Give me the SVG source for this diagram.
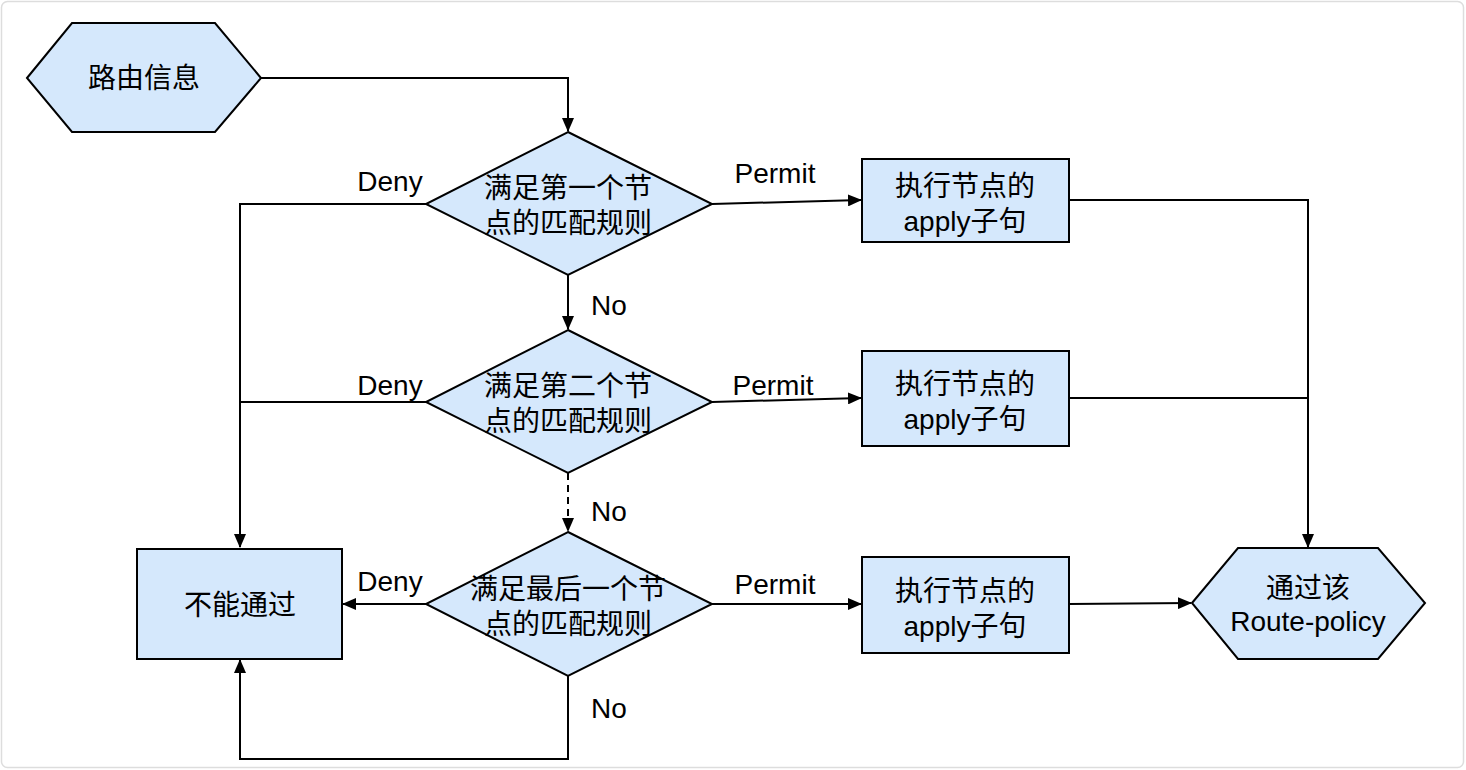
<svg xmlns="http://www.w3.org/2000/svg" width="1466" height="770" viewBox="0 0 1466 770">
<style>
.shape{fill:#d5e8fc;stroke:#000;stroke-width:2}
.t{font-family:"Liberation Sans","Noto Sans CJK SC",sans-serif;font-size:28px;fill:#000;text-anchor:middle}
.c{fill:none;stroke:#000;stroke-width:2}
</style>
<defs>
<marker id="arr" markerUnits="userSpaceOnUse" markerWidth="14" markerHeight="12" refX="13" refY="6" orient="auto">
<path d="M0,0 L14,6 L0,12 Z" fill="#000"/>
</marker>
</defs>
<rect x="1.5" y="1.5" width="1462" height="766" rx="6" fill="#fff" stroke="#dddddd" stroke-width="1.5"/>
<g id="connectors">
<polyline class="c" points="261,78 568,78 568,131" marker-end="url(#arr)"/>
<polyline class="c" points="426,204 240,204 240,547" marker-end="url(#arr)"/>
<line class="c" x1="712" y1="204" x2="861" y2="200" marker-end="url(#arr)"/>
<polyline class="c" points="1069,200 1308,200 1308,547" marker-end="url(#arr)"/>
<line class="c" x1="568" y1="275" x2="568" y2="329" marker-end="url(#arr)"/>
<line class="c" x1="426" y1="402" x2="240" y2="402"/>
<line class="c" x1="712" y1="402" x2="861" y2="398" marker-end="url(#arr)"/>
<line class="c" x1="1069" y1="398" x2="1308" y2="398"/>
<line class="c" x1="568" y1="473" x2="568" y2="531" stroke-dasharray="7,5" marker-end="url(#arr)"/>
<line class="c" x1="426" y1="604" x2="343" y2="604" marker-end="url(#arr)"/>
<polyline class="c" points="568,676 568,759 240,759 240,660" marker-end="url(#arr)"/>
<line class="c" x1="712" y1="604" x2="861" y2="604" marker-end="url(#arr)"/>
<line class="c" x1="1069" y1="604" x2="1191" y2="603" marker-end="url(#arr)"/>
<text class="t" x="390" y="191">Deny</text>
<text class="t" x="775" y="183">Permit</text>
<text class="t" x="609" y="315">No</text>
<text class="t" x="390" y="395">Deny</text>
<text class="t" x="773" y="395">Permit</text>
<text class="t" x="609" y="521">No</text>
<text class="t" x="390" y="591">Deny</text>
<text class="t" x="775" y="594">Permit</text>
<text class="t" x="609" y="718">No</text>
</g>
<g id="start">
<polygon class="shape" points="27,78 72,23 215,23 261,78 215,132 72,132"/>
<text class="t" x="144" y="88">路由信息</text>
</g>
<g id="cond1">
<polygon class="shape" points="568,132 712,204 568,275 426,204"/>
<text class="t" x="568" y="198">满足第一个节</text>
<text class="t" x="568" y="233">点的匹配规则</text>
</g>
<g id="cond2">
<polygon class="shape" points="568,330 712,402 568,473 426,402"/>
<text class="t" x="568" y="396">满足第二个节</text>
<text class="t" x="568" y="431">点的匹配规则</text>
</g>
<g id="cond3">
<polygon class="shape" points="568,532 712,604 568,676 426,604"/>
<text class="t" x="568" y="599">满足最后一个节</text>
<text class="t" x="568" y="634">点的匹配规则</text>
</g>
<g id="apply1">
<rect class="shape" x="862" y="159" width="207" height="83"/>
<text class="t" x="965" y="196">执行节点的</text>
<text class="t" x="965" y="231">apply子句</text>
</g>
<g id="apply2">
<rect class="shape" x="862" y="351" width="207" height="95"/>
<text class="t" x="965" y="394">执行节点的</text>
<text class="t" x="965" y="429">apply子句</text>
</g>
<g id="apply3">
<rect class="shape" x="862" y="557" width="207" height="96"/>
<text class="t" x="965" y="601">执行节点的</text>
<text class="t" x="965" y="636">apply子句</text>
</g>
<g id="reject">
<rect class="shape" x="137" y="549" width="205" height="110"/>
<text class="t" x="240" y="615">不能通过</text>
</g>
<g id="pass">
<polygon class="shape" points="1192,603 1238,548 1378,548 1425,603 1378,659 1238,659"/>
<text class="t" x="1308" y="598">通过该</text>
<text class="t" x="1308" y="631">Route-policy</text>
</g>
</svg>
